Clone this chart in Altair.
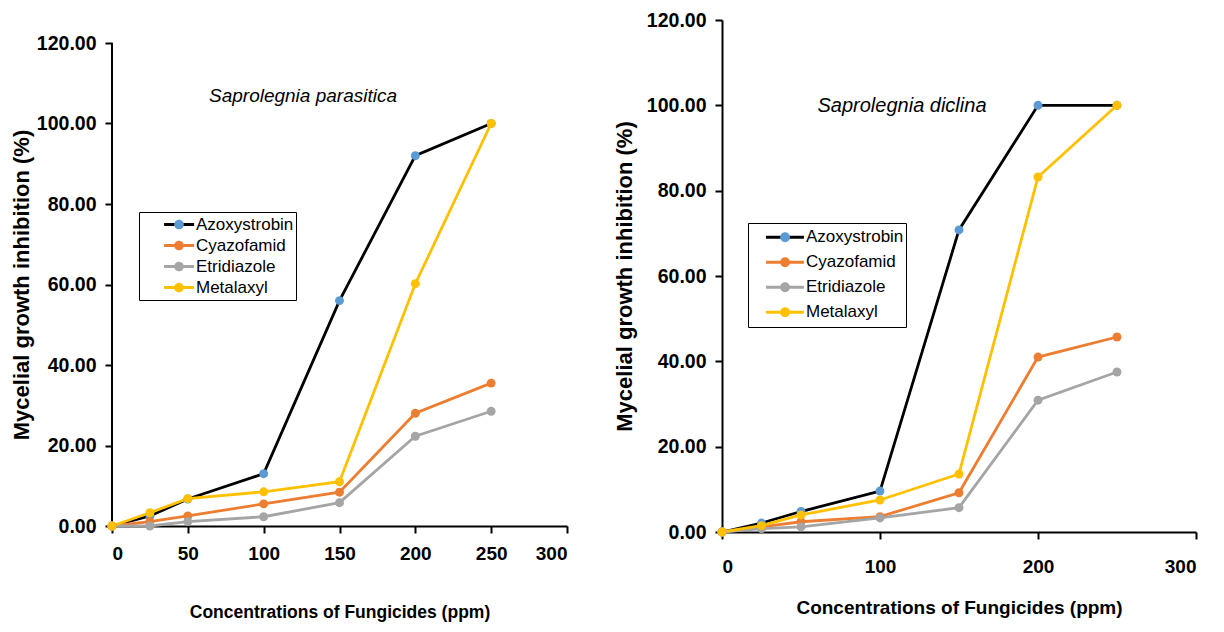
import altair as alt
import pandas as pd

conc = [0, 25, 50, 100, 150, 200, 250]
names = ["Azoxystrobin", "Cyazofamid", "Etridiazole", "Metalaxyl"]
line_colors = ["#000000", "#ED7D31", "#A5A5A5", "#FFC000"]
point_colors = ["#5B9BD5", "#ED7D31", "#A5A5A5", "#FFC000"]

# Saprolegnia parasitica
azo_p = [0, 2.5, 6.7, 13.0, 56.0, 92.0, 100.0]
cya_p = [0, 1.1, 2.5, 5.5, 8.4, 28.0, 35.5]
etr_p = [0, 0.0, 1.1, 2.3, 5.8, 22.3, 28.5]
met_p = [0, 3.3, 6.8, 8.5, 11.0, 60.2, 100.0]

# Saprolegnia diclina
azo_d = [0, 2.1, 4.8, 9.6, 70.8, 100.0, 100.0]
cya_d = [0, 1.2, 2.4, 3.6, 9.2, 41.0, 45.7]
etr_d = [0, 0.8, 1.2, 3.3, 5.7, 30.9, 37.5]
met_d = [0, 1.5, 4.0, 7.5, 13.6, 83.2, 100.0]

y_ticks = [0, 20, 40, 60, 80, 100, 120]
y_top = 120
x_ticks_left = [0, 50, 100, 150, 200, 250, 300]
x_ticks_right = [0, 100, 200, 300]

FONT = "Liberation Sans"


def long_df(series):
    rows = []
    for name, vals in zip(names, series):
        for c, v in zip(conc, vals):
            rows.append({"conc": c, "value": v, "Fungicide": name, "FungicidePt": name})
    return pd.DataFrame(rows)


def panel(df, title, w, h, axis_h, xticks, tx, ty, leg, xfs, lab_pad_x, title_pad_x, title_pad_y, title_fs):
    S, line_path, circ_path, clip_h, lx, ly = leg
    ymax = y_top * h / axis_h
    own_line = h != axis_h
    x_enc = alt.X("conc:Q", scale=alt.Scale(domain=[0, 300], nice=False),
                  axis=alt.Axis(values=xticks, format="d", title="Concentrations of Fungicides (ppm)",
                                labelFont=FONT, labelFontSize=19, labelFontWeight="bold", labelColor="black",
                                labelPadding=lab_pad_x, titleFont=FONT, titleFontSize=xfs, titleFontWeight="bold",
                                titleColor="black", titlePadding=title_pad_x, domainColor="black", domainWidth=2,
                                tickColor="black", tickWidth=2, tickSize=7, grid=False))
    y_enc = alt.Y("value:Q", scale=alt.Scale(domain=[0, ymax], nice=False),
                  axis=alt.Axis(values=y_ticks, format=".2f", title="Mycelial growth inhibition  (%)",
                                labelFont=FONT, labelFontSize=19.5, labelFontWeight="bold", labelColor="black",
                                labelPadding=9, titleFont=FONT, titleFontSize=22, titleFontWeight="bold",
                                titleColor="black", titlePadding=title_pad_y, titleY=(h - axis_h) + axis_h / 2,
                                domain=not own_line, domainColor="black", domainWidth=2,
                                tickColor="black", tickWidth=2, tickSize=7, grid=False))
    base = alt.Chart(df)
    lines = base.mark_line(strokeWidth=2.8).encode(
        x=x_enc, y=y_enc,
        stroke=alt.Stroke("Fungicide:N", scale=alt.Scale(range=line_colors),
                          legend=alt.Legend(title=None, orient="none", legendX=lx, legendY=ly,
                                            symbolType=line_path, symbolSize=S, symbolStrokeWidth=2.8,
                                            clipHeight=clip_h, rowPadding=0, padding=2,
                                            strokeColor="black", labelFont=FONT, labelFontSize=17,
                                            labelColor="black", labelOffset=4)),
        order="conc:Q",
    )
    pts = base.mark_point(filled=True, size=80, opacity=1).encode(
        x="conc:Q", y="value:Q",
        fill=alt.Fill("FungicidePt:N", scale=alt.Scale(range=point_colors),
                      legend=alt.Legend(title=None, orient="none", legendX=lx, legendY=ly,
                                        symbolType=circ_path, symbolSize=S, symbolStrokeWidth=2.8,
                                        symbolStrokeColor="transparent", symbolOpacity=1,
                                        clipHeight=clip_h, rowPadding=0, padding=2,
                                        labelFont=FONT, labelFontSize=17, labelOpacity=0, labelOffset=4)),
    )
    txt = alt.Chart(pd.DataFrame({"t": [title]})).mark_text(
        font=FONT, fontSize=title_fs, fontStyle="italic", color="black", align="center", baseline="middle"
    ).encode(x=alt.value(tx), y=alt.value(ty), text="t:N")
    layers = [lines, pts, txt]
    if own_line:
        axis_line = alt.Chart(pd.DataFrame({"a": [0]})).mark_rule(color="black", strokeWidth=2).encode(
            x=alt.value(0), y=alt.datum(0), y2=alt.datum(y_top))
        layers.insert(0, axis_line)
    return alt.layer(*layers).properties(width=w, height=h)


left = panel(long_df([azo_p, cya_p, etr_p, met_p]), "Saprolegnia parasitica", 455, 506, 483,
             x_ticks_left, 191, 76,
             (2304, "M -0.1 0 H 1.15", "M 0.32 0 A 0.2 0.2 0 1 1 0.72 0 A 0.2 0.2 0 1 1 0.32 0 Z",
              21, 27, 192),
             17.5, 11, 40, 3, 19)

right = panel(long_df([azo_d, cya_d, etr_d, met_d]), "Saprolegnia diclina", 474, 512, 512,
              x_ticks_right, 180, 86,
              (2401, "M -0.41 0 H 1.14", "M 0.17 0 A 0.2 0.2 0 1 1 0.57 0 A 0.2 0.2 0 1 1 0.17 0 Z",
               24.5, 26, 203),
              19, 18, 22, 10, 20)

chart = alt.hconcat(left, right, spacing=45).resolve_scale(
    stroke="independent", fill="independent"
).properties(
    padding={"left": 2, "top": 2, "right": 5, "bottom": 5}
).configure_view(strokeWidth=0)

chart.save("out.html", embed_options={"renderer": "svg", "actions": False})
